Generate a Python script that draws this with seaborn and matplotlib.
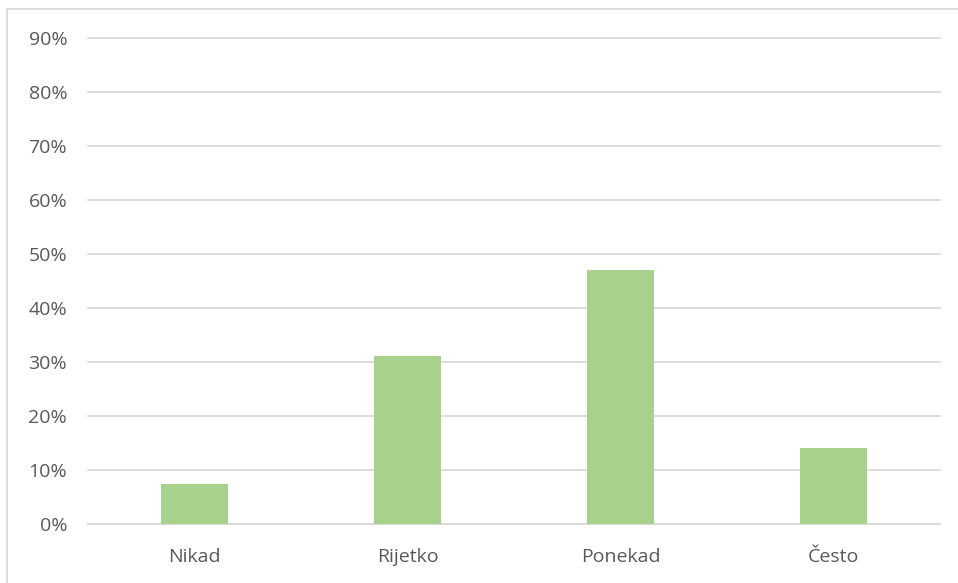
import pandas as pd
import seaborn as sns
import matplotlib.pyplot as plt
from matplotlib.lines import Line2D
from matplotlib.ticker import PercentFormatter

# Data
categories = ["Nikad", "Rijetko", "Ponekad", "Često"]
shares = [0.074, 0.312, 0.471, 0.140]

df = pd.DataFrame({"odgovor": categories, "udio": shares})

sns.set_style("white")
plt.rcParams['font.family'] = ['Open Sans', 'DejaVu Sans']

fig = plt.figure(figsize=(9.58, 5.83), dpi=100)
ax = fig.add_axes([88 / 958, 1 - 524 / 583, (940 - 88) / 958, (524 - 38) / 583])

sns.barplot(data=df, x="odgovor", y="udio", color="#A9D18E", width=0.31,
            saturation=1, linewidth=0, ax=ax, zorder=3)

ax.set_ylim(0, 0.9)
ax.set_xlim(-0.5, 3.5)
ax.set_yticks([i / 10 for i in range(10)])
ax.yaxis.set_major_formatter(PercentFormatter(1.0, decimals=0))
ax.grid(axis="y", color="#D9D9D9", linewidth=1.3, zorder=0)
for gl in ax.get_ygridlines():
    gl.set_clip_on(False)
ax.set_xlabel("")
ax.set_ylabel("")
for side in ["top", "right", "left"]:
    ax.spines[side].set_visible(False)
ax.spines["bottom"].set_color("#D9D9D9")
ax.spines["bottom"].set_linewidth(1.3)
ax.tick_params(axis="both", length=0, labelsize=14, labelcolor="#595959")
ax.tick_params(axis="y", pad=15)
ax.tick_params(axis="x", pad=17)

# outer chart frame (left and top edges visible)
fig.add_artist(Line2D([7 / 958, 7 / 958], [0, 1 - 9 / 583], color="#D9D9D9", linewidth=1.3))
fig.add_artist(Line2D([7 / 958, 1], [1 - 9 / 583, 1 - 9 / 583], color="#D9D9D9", linewidth=1.3))

plt.savefig("out.png", dpi=100)
